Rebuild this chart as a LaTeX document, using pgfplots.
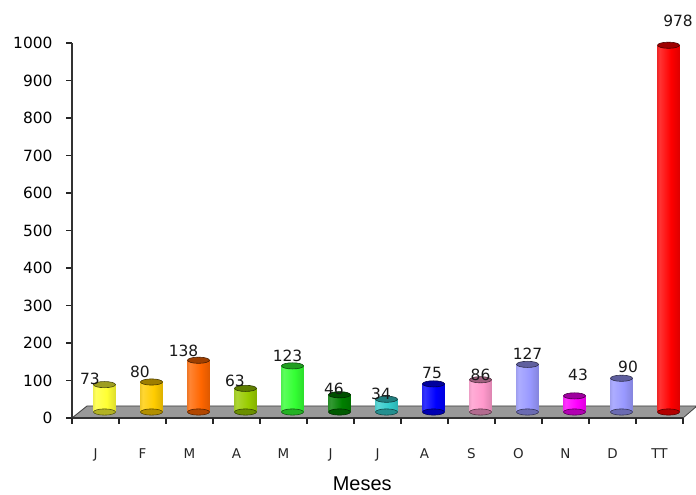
\documentclass[border=0pt]{standalone}
\usepackage{pgfplots}
\pgfplotsset{compat=1.18}
\usepackage{fontspec}
\setmainfont{DejaVu Sans}
\newfontfamily\arialfont{Liberation Sans}

\definecolor{cJan}{HTML}{FFFF33}
\definecolor{cFeb}{HTML}{FFCC00}
\definecolor{cMar}{HTML}{FF6600}
\definecolor{cAbr}{HTML}{99CC00}
\definecolor{cMai}{HTML}{33FF33}
\definecolor{cJun}{HTML}{008000}
\definecolor{cJul}{HTML}{33CCCC}
\definecolor{cAgo}{HTML}{0000FF}
\definecolor{cSet}{HTML}{FF99CC}
\definecolor{cOut}{HTML}{9999FF}
\definecolor{cNov}{HTML}{FF00FF}
\definecolor{cDez}{HTML}{9999FF}
\definecolor{cTot}{HTML}{FF0000}
\definecolor{floorgray}{HTML}{999999}
\colorlet{cylbase}{red}

% side of a cylinder: dark rim, bright body, shaded right side
\pgfdeclarehorizontalshading[cylbase]{cylinder}{100bp}{%
  color(0bp)=(cylbase!30!black);
  color(7bp)=(cylbase!75!black);
  color(30bp)=(cylbase!80!white);
  color(55bp)=(cylbase);
  color(88bp)=(cylbase!78!black);
  color(100bp)=(cylbase!35!black)}

% one cylinder: position, value, colour, label x offset, label y offset
\newcommand{\cyl}[5]{%
  \addplot[only marks, mark=*, mark size=11bp, xshift=9bp, yshift=6bp,
    mark options={yscale=0.28, fill=#3!70!black, draw=#3!35!black, line width=0.6bp}]
    coordinates {(#1,0)};
  \addplot[ybar, bar width=22bp, bar shift=0pt, xshift=9bp, yshift=6bp, draw=none,
    /utils/exec={\colorlet{cylbase}{#3}}, shading=cylinder]
    coordinates {(#1,#2)};
  \addplot[only marks, mark=*, mark size=11bp, xshift=9bp, yshift=6bp,
    mark options={yscale=0.28, fill=#3!62!black, draw=#3!30!black, line width=0.6bp},
    nodes near coords,
    every node near coord/.append style={anchor=center, xshift=#4, yshift=#5,
      font=\fontsize{15.5}{18}\selectfont, text=black!90}]
    coordinates {(#1,#2)};
}

\begin{document}
\begin{tikzpicture}
\begin{axis}[
  at={(72bp,77bp)}, anchor=south west,
  scale only axis, width=611bp, height=375bp,
  xmin=-0.5, xmax=12.5, ymin=0, ymax=1000,
  clip=false,
  axis x line*=bottom, axis y line*=left,
  axis line style={line width=1.6bp, color=black!80},
  xtick={-0.5,0.5,...,12.5}, x tick label as interval,
  xticklabels={J,F,M,A,M,J,J,A,S,O,N,D,TT},
  ytick={0,100,...,1000},
  tick align=outside, major tick length=6bp,
  xtick style={draw=none},
  ytick style={line width=1.2bp, color=black!85},
  /pgf/number format/assume math mode=true,
  /pgf/number format/1000 sep={},
  yticklabel style={font=\fontsize{15.5}{18}\selectfont, anchor=east, xshift=-10bp},
  xticklabel style={font=\fontsize{13.5}{16}\selectfont, text=black!85, anchor=base, yshift=-35bp},
  xlabel={Meses},
  xlabel style={font=\arialfont\fontsize{20}{24}\selectfont, at={(axis description cs:0.475,0)},
    anchor=base, inner sep=0pt, yshift=-72bp},
]
  % floor of the chart
  \fill[floorgray, draw=black!75, line width=0.8bp]
    (axis cs:-0.5,0) -- (axis cs:12.5,0)
    -- ([xshift=14bp,yshift=12bp]axis cs:12.5,0)
    -- ([xshift=15bp,yshift=12bp]axis cs:-0.5,0) -- cycle;

  \cyl{0}{73}{cJan}{-14.5bp}{5.6bp}
  \cyl{1}{80}{cFeb}{-11.5bp}{10.5bp}
  \cyl{2}{138}{cMar}{-15bp}{9bp}
  \cyl{3}{63}{cAbr}{-10.5bp}{7.4bp}
  \cyl{4}{123}{cMai}{-5bp}{9.5bp}
  \cyl{5}{46}{cJun}{-5.5bp}{6bp}
  \cyl{6}{34}{cJul}{-5.5bp}{5bp}
  \cyl{7}{75}{cAgo}{-1.5bp}{11bp}
  \cyl{8}{86}{cSet}{0bp}{5bp}
  \cyl{9}{127}{cOut}{0bp}{11bp}
  \cyl{10}{43}{cNov}{3.5bp}{21bp}
  \cyl{11}{90}{cDez}{6.5bp}{11.5bp}
  \cyl{12}{978}{cTot}{9.5bp}{24bp}

  % front edge and tick marks between the months
  \draw[line width=1.6bp, black!80] (axis cs:-0.5,0) -- (axis cs:12.5,0);
  \pgfplotsinvokeforeach{-0.5,0.5,...,12.5}{
    \draw[line width=1.2bp, black!85] (axis cs:#1,0) -- ([yshift=-6bp]axis cs:#1,0);
  }
\end{axis}
\pgfresetboundingbox
\path[use as bounding box] (0,0) rectangle (696bp,495bp);
\end{tikzpicture}
\end{document}
